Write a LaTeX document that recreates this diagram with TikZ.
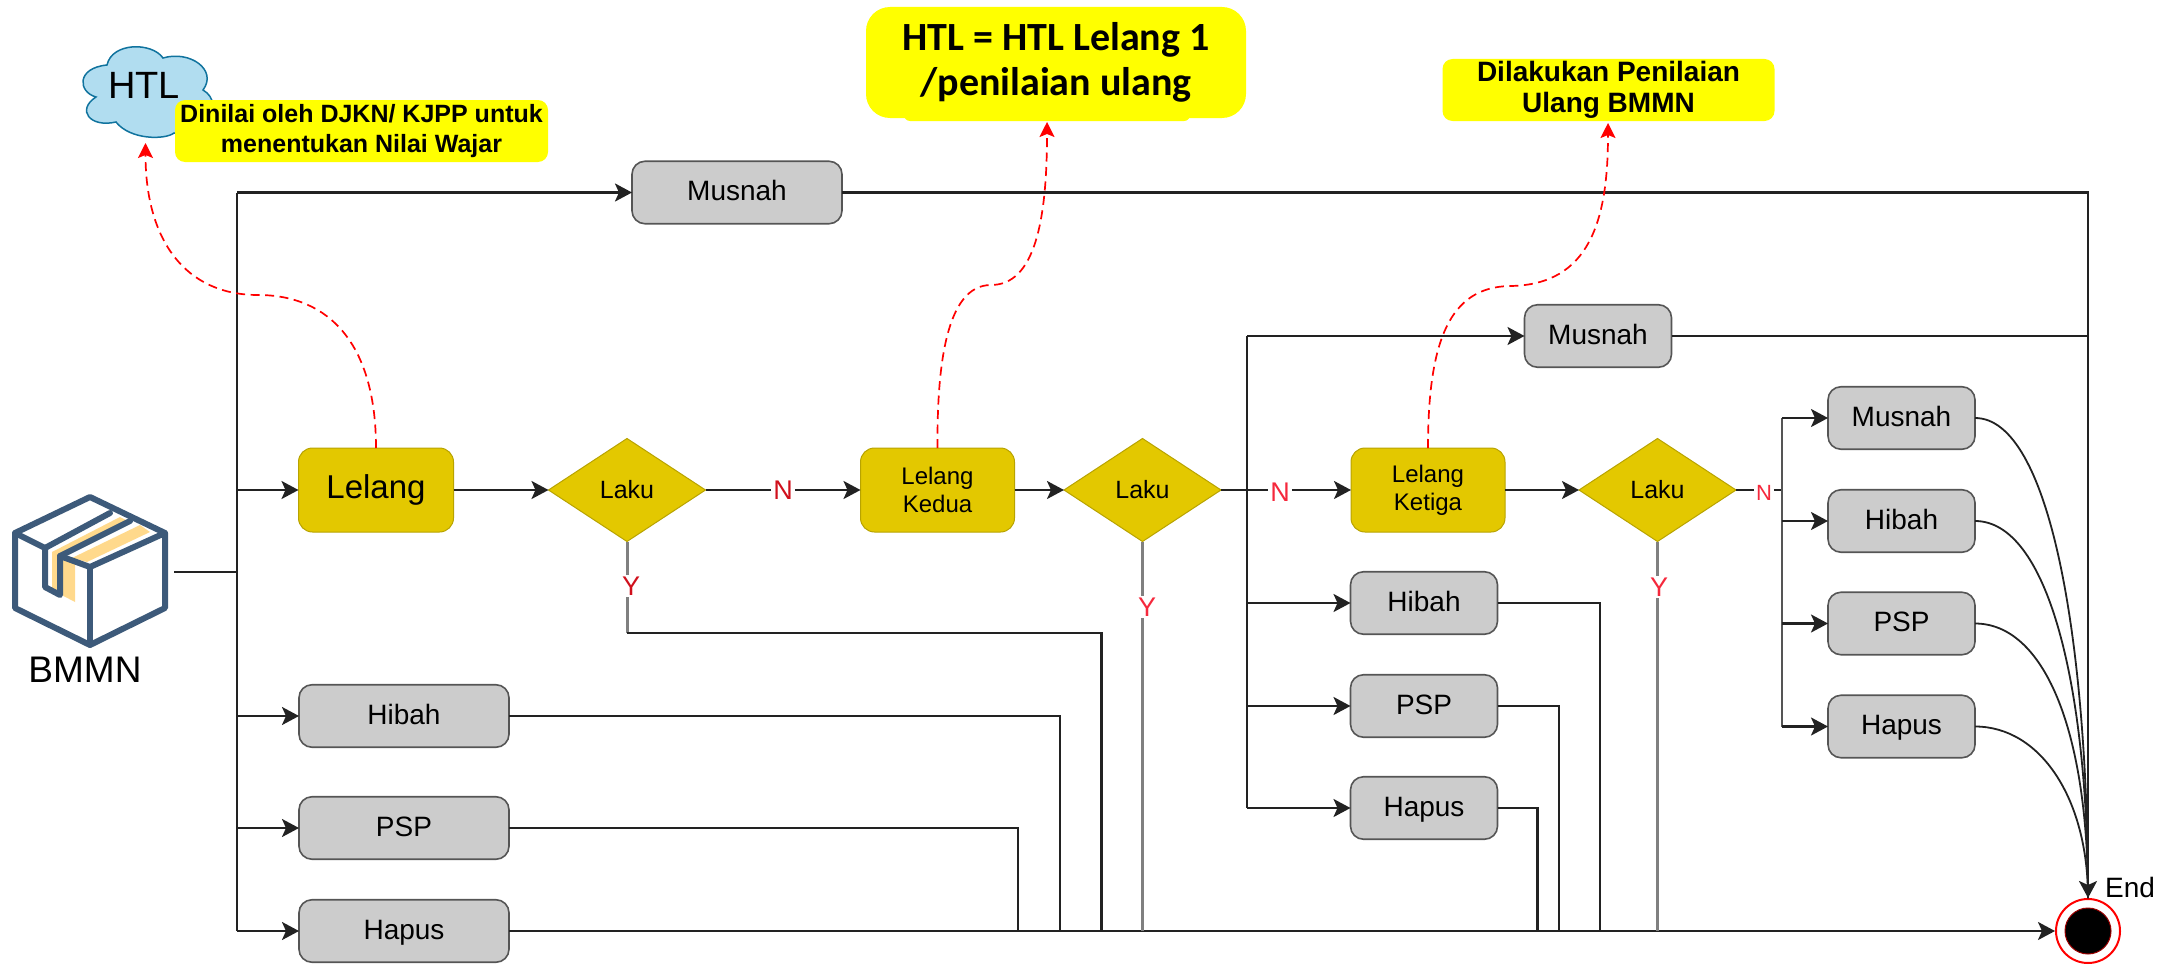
\documentclass[tikz,border=0pt]{standalone}
\usepackage{fontspec}
\setmainfont{Liberation Sans}
\newfontfamily\carlitofont{Carlito}
\usetikzlibrary{arrows.meta,shapes.geometric,calc}
\definecolor{boxgrey}{HTML}{CCCCCC}
\definecolor{boxline}{HTML}{555555}
\definecolor{gold}{HTML}{E3C800}
\definecolor{goldline}{HTML}{B8A300}
\definecolor{cloudfill}{HTML}{B1DDF0}
\definecolor{cloudline}{HTML}{10739E}
\definecolor{iconblue}{HTML}{3D5A7A}
\definecolor{tape}{HTML}{FFD98C}
\definecolor{linedark}{HTML}{222222}
\definecolor{linegrey}{HTML}{808080}
\definecolor{labred}{HTML}{F5283C}
\definecolor{labdark}{HTML}{D0101C}
\definecolor{pureyellow}{rgb}{1,1,0}
\definecolor{purered}{rgb}{1,0,0}
\tikzset{
  fs/.style={font=\fontsize{#1}{#1}\selectfont},
  greybox/.style={draw=boxline,line width=1.6pt,fill=boxgrey,rounded corners=13pt,inner sep=0pt,outer sep=0pt,
    minimum width=#1,minimum height=62.5pt,fs=28,text height=22pt,text depth=6pt},
  greybox/.default=147pt,
  goldbox/.style={draw=goldline,line width=1pt,fill=gold,rounded corners=14pt,inner sep=0pt,outer sep=0pt,
    minimum width=154pt,minimum height=84pt,align=center,font=\fontsize{24}{28}\selectfont},
  golddia/.style={diamond,aspect=1.52,draw=goldline,line width=1pt,fill=gold,inner sep=0pt,outer sep=0pt,
    minimum width=157pt,minimum height=103pt,fs=25},
  note/.style={fill=pureyellow,rounded corners=10pt,inner sep=0pt,outer sep=0pt,align=center},
  lab/.style={text=labred,inner sep=2pt,outer sep=0pt,fs=#1},
  lab/.default=27,
  darklab/.style={lab,text=labdark},
  conn/.style={draw=linedark,line width=2.4pt},
  thinconn/.style={draw=linedark,line width=1.8pt},
  greyconn/.style={draw=linegrey,line width=3pt},
  arr/.style={conn,-{Stealth[length=17pt,width=18pt,inset=4pt]}},
  redarr/.style={draw=purered,line width=1.7pt,dash pattern=on 9pt off 5.5pt,-{Stealth[length=15pt,width=15pt,inset=3pt]}},
  iconline/.style={draw=iconblue,line width=6pt,line join=round,line cap=round},
  x=1pt,y=-1pt
}
\begin{document}
\begin{tikzpicture}
\useasboundingbox (0,0) rectangle (2177,966);

% cloud
\path[fill=cloudfill,draw=cloudline,line width=1.5pt]
  (96,97) .. controls (78,92) and (76,68) .. (107,65)
  .. controls (112,42) and (152,42) .. (163,58)
  .. controls (190,50) and (218,70) .. (203,90)
  .. controls (215,97) and (216,110) .. (205,125)
  .. controls (200,135) and (185,135) .. (174,133)
  .. controls (165,140) and (130,140) .. (116,122)
  .. controls (90,128) and (76,110) .. (96,97) -- cycle;
\node[inner sep=0pt,fs=38] (htl) at (144,85) {HTL};

% notes
\node[note,minimum width=373pt,minimum height=62pt,font=\bfseries\fontsize{25}{30}\selectfont] (note1) at (361.5,131) {Dinilai oleh DJKN/ KJPP untuk\\menentukan Nilai Wajar};
\fill[pureyellow,rounded corners=6pt] (904,100) rectangle (1190,121);
\node[note,rounded corners=24pt,minimum width=380pt,minimum height=111pt,font=\carlitofont\bfseries\fontsize{40}{45}\selectfont] (note2) at (1056,62.5) {\raisebox{-2pt}{HTL = HTL Lelang 1}\\\raisebox{-2pt}{/penilaian ulang}};
\node[note,minimum width=332pt,minimum height=62pt,font=\bfseries\fontsize{28}{31}\selectfont] (note3) at (1608.5,90) {\raisebox{2pt}{Dilakukan Penilaian}\\\raisebox{2pt}{Ulang BMMN}};

% icon
\fill[tape] (52,552) -- (120,517) -- (128,521) -- (65,555) -- (75,562) -- (75,602) -- (52,590) -- cycle;
\fill[tape] (72,558) -- (140,525) -- (150,532) -- (87,562) -- cycle;
\draw[iconline] (90,497) -- (165,533) -- (165,608) -- (90,645) -- (15,608) -- (15,533) -- cycle;
\draw[iconline] (15,533) -- (45,548) -- (45,587) -- (60,595) -- (60,556) -- (90,567) -- (165,533);
\draw[iconline] (90,567) -- (90,645);
\draw[iconline] (45,548) -- (110,513);
\draw[iconline] (60,556) -- (130,521);
\coordinate (icon) at (174,572);
\node[inner sep=0pt,fs=37] (bmmnlabel) at (85,670) {BMMN};

% first column
\node[greybox=210pt] (m1) at (737,192.5) {Musnah};
\node[goldbox,minimum width=155pt,font=\fontsize{33}{33}\selectfont] (lelang1) at (376,490) {Lelang};
\node[golddia] (d1) at (627,490) {Laku};
\node[greybox=210pt] (h1) at (404,716) {Hibah};
\node[greybox=210pt] (p1) at (404,828) {PSP};
\node[greybox=210pt] (x1) at (404,931) {Hapus};

% second column
\node[goldbox] (lelang2) at (937.5,490) {Lelang\\Kedua};
\node[golddia] (d2) at (1142.5,490) {Laku};
\node[greybox] (m2) at (1598,336) {Musnah};
\node[goldbox] (lelang3) at (1428,490) {Lelang\\Ketiga};
\node[golddia] (d3) at (1657.5,490) {Laku};
\node[greybox] (h2) at (1424,603) {Hibah};
\node[greybox] (p2) at (1424,706) {PSP};
\node[greybox] (x2) at (1424,808) {Hapus};

% third column
\node[greybox] (m3) at (1901.5,418) {Musnah};
\node[greybox] (h3) at (1901.5,521) {Hibah};
\node[greybox] (p3) at (1901.5,623.5) {PSP};
\node[greybox] (x3) at (1901.5,726.5) {Hapus};

% end
\node[circle,draw=purered,line width=2pt,fill=white,minimum size=64pt,inner sep=0pt,outer sep=1pt] (endring) at (2088,931) {};
\node[circle,draw=purered!60!black,line width=1pt,fill=black,minimum size=46pt,inner sep=0pt] (enddot) at (2088,931) {};
\node[inner sep=0pt,fs=28,anchor=center] (endlabel) at (2130,887) {End};

% labels
\node[darklab] (n1) at (783,490) {N};
\node[lab] (n2) at (1280,492) {N};
\node[lab=22] (n3) at (1764,493) {N};
\node[darklab] (y1) at (631,586) {Y};
\node[lab] (y2) at (1147,607) {Y};
\node[lab] (y3) at (1659,587) {Y};

% junctions
\coordinate (t1top) at (237,192.5);
\coordinate (t1bot) at (237,931);
\coordinate (t1mid) at (237,572);
\coordinate (t2top) at (1247,336);
\coordinate (t2bot) at (1247,808);
\coordinate (t3top) at (1782,418);
\coordinate (t3bot) at (1782,726.5);

% trunk 1
\draw[conn] (icon) -- (t1mid);
\draw[conn] (t1top) -- (t1bot);
\draw[arr] (t1top) -- (m1.west);
\draw[arr] (t1mid |- lelang1.west) -- (lelang1.west);
\draw[arr] (t1mid |- h1.west) -- (h1.west);
\draw[arr] (t1mid |- p1.west) -- (p1.west);
\draw[arr] (t1bot) -- (x1.west);

% main row
\draw[arr] (lelang1.east) -- (d1.west);
\draw[conn] (d1.east) -- (n1.west |- d1.east);
\draw[arr] (n1.east |- d1.east) -- (lelang2.west);
\draw[arr] (lelang2.east) -- (d2.west);
\draw[conn] (d2.east) -- (n2.west |- d2.east);
\draw[arr] (n2.east |- d2.east) -- (lelang3.west);
\draw[arr] (lelang3.east) -- (d3.west);
\draw[conn] (d3.east) -- (n3.west |- d3.east);
\draw[conn] (n3.east |- d3.east) -- (t3top |- d3.east);

% trunk 2
\draw[conn] (t2top) -- (t2bot);
\draw[arr] (t2top) -- (m2.west);
\draw[arr] (t2top |- h2.west) -- (h2.west);
\draw[arr] (t2top |- p2.west) -- (p2.west);
\draw[arr] (t2bot) -- (x2.west);

% trunk 3
\draw[conn,draw=boxline] (t3top) -- (t3bot);
\draw[arr] (t3top) -- (m3.west);
\draw[arr] (t3top |- h3.west) -- (h3.west);
\draw[arr] (t3top |- p3.west) -- (p3.west);
\draw[arr] (t3bot) -- (x3.west);

% bottom bus
\draw[arr] (x1.east) -- (endring.west);
\draw[conn] (h1.east) -| (1060,931);
\draw[conn] (p1.east) -| (1018,931);
\draw[conn] (h2.east) -| (1600,931);
\draw[conn] (p2.east) -| (1559,931);
\draw[conn] (x2.east) -| (1537.5,931);

% Y branches
\draw[greyconn] (d1.south) -- (d1.south |- y1.north);
\draw[greyconn] (d1.south |- y1.south) -- (627,633);
\draw[conn] (627,633) -| (1101.5,931);
\draw[greyconn] (d2.south) -- (d2.south |- y2.north);
\draw[greyconn] (d2.south |- y2.south) -- (d2.south |- x1.east);
\draw[greyconn] (d3.south) -- (d3.south |- y3.north);
\draw[greyconn] (d3.south |- y3.south) -- (d3.south |- x1.east);

% to end
\draw[arr] (m1.east) -| (endring.north);
\draw[conn] (m2.east) -- (m2.east -| endring.north);
\draw[thinconn] (m3.east) .. controls +(75,0) and +(0,-257) .. (endring.north);
\draw[thinconn] (h3.east) .. controls +(72,0) and +(0,-215) .. (endring.north);
\draw[thinconn] (p3.east) .. controls +(68,0) and +(0,-170) .. (endring.north);
\draw[thinconn] (x3.east) .. controls +(65,0) and +(0,-100) .. (endring.north);

% dashed
\coordinate (tip1) at (145.5,143);
\coordinate (tip2) at (1047,122);
\coordinate (tip3) at (1608,123);
\draw[redarr] (lelang1.north) .. controls (376,345) and (330,295) .. (258,295) .. controls (185,295) and (145.5,240) .. (tip1);
\draw[redarr] (lelang2.north) .. controls (937,370) and (945,285) .. (991,285) .. controls (1035,285) and (1047,220) .. (tip2);
\draw[redarr] (lelang3.north) .. controls (1428,340) and (1450,287) .. (1510,286) .. controls (1590,285) and (1608,220) .. (tip3);
\end{tikzpicture}
\end{document}
